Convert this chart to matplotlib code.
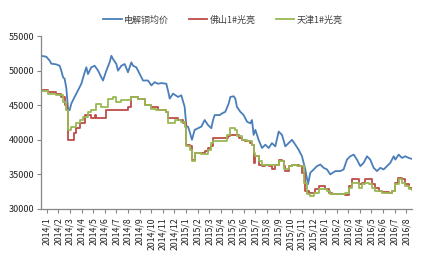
import matplotlib
matplotlib.use("Agg")
import matplotlib.pyplot as plt

plt.rcParams['font.family'] = ['Noto Sans CJK SC', 'DejaVu Sans']

# month labels (category axis)
months = [f"{y}/{m}" for y, m in [(2014, i) for i in range(1, 13)] + [(2015, i) for i in range(1, 13)] + [(2016, i) for i in range(1, 9)]]

# positions in fractional months since 2014/1
blue_t = [0.03, 0.46, 0.75, 0.89, 1.32, 1.61, 1.75, 1.90, 2.04, 2.19, 2.33, 2.39, 2.47, 2.62, 2.90, 3.19, 3.48, 3.77, 3.91, 4.05,
          4.34, 4.63, 4.92, 5.20, 5.35, 5.64, 5.92, 6.07, 6.21, 6.50, 6.64, 6.93, 7.22, 7.50, 7.79, 7.94, 8.22, 8.51, 8.80, 9.23,
          9.52, 9.80, 10.09, 10.38, 10.81, 10.95, 11.10, 11.39, 11.82, 12.10, 12.39, 12.54, 12.68, 12.82, 13.02, 13.25, 13.54, 13.83, 14.12, 14.40,
          14.69, 14.84, 14.98, 15.41, 15.61, 15.90, 16.19, 16.33, 16.62, 16.76, 16.90, 17.19, 17.48, 17.77, 18.05, 18.20, 18.34, 18.49, 18.77, 19.06,
          19.35, 19.64, 19.92, 20.21, 20.50, 20.79, 21.07, 21.36, 21.65, 21.94, 22.22, 22.51, 22.80, 23.03, 23.23, 23.52, 23.80, 24.09, 24.38, 24.67,
          24.95, 25.39, 25.82, 26.10, 26.39, 26.68, 26.97, 27.25, 27.54, 27.83, 28.12, 28.40, 28.69, 28.98, 29.27, 29.55, 29.84, 30.13, 30.42, 30.56,
          30.85, 31.14, 31.42, 31.71, 32.00]
blue_v = [52140, 52000, 51430, 51000, 50900, 50700, 50000, 49050, 48800, 47400, 44500, 44290, 44300, 45240, 46200, 47140, 48100, 49760, 50480, 49500,
          50480, 50700, 50000, 49050, 48570, 50000, 51200, 52140, 51670, 50950, 50000, 50700, 50950, 49760, 51190, 50700, 50480, 49520, 48570, 48570,
          47860, 48330, 48100, 48200, 48100, 47140, 45950, 46670, 46190, 46430, 44760, 41900, 41900, 41190, 40000, 41430, 41670, 41900, 42860, 42140,
          41670, 42860, 43570, 43570, 43810, 44050, 45240, 46190, 46290, 45950, 44760, 44050, 43570, 42620, 42380, 42860, 40710, 41430, 40000, 38810,
          39290, 38810, 39520, 39050, 41190, 40710, 39050, 39520, 40000, 39290, 38570, 37620, 35710, 33570, 35240, 35710, 36190, 36430, 35950, 35710,
          35000, 35480, 35480, 35710, 37140, 37620, 37860, 37140, 36190, 36670, 37620, 37140, 35950, 35480, 35950, 35710, 36190, 36670, 37620, 37140,
          37860, 37380, 37620, 37380, 37240]

red_t = [0.03, 0.60, 1.32, 1.75, 2.04, 2.27, 2.33, 2.76, 2.85, 3.05, 3.34, 3.77, 4.20, 4.34, 4.63, 4.77, 5.49, 5.64, 6.64, 7.50,
         7.79, 8.37, 8.94, 9.52, 10.09, 10.81, 10.95, 11.82, 12.25, 12.54, 12.82, 13.02, 13.25, 14.12, 14.40, 14.69, 14.84, 15.84, 16.13, 16.33,
         16.76, 17.05, 17.34, 17.62, 18.05, 18.20, 18.34, 18.49, 18.77, 19.06, 19.35, 19.64, 19.92, 20.21, 20.50, 20.79, 20.93, 21.07, 21.36, 21.65,
         22.22, 22.51, 22.80, 23.09, 23.52, 23.66, 23.95, 24.24, 24.52, 24.81, 25.10, 25.96, 26.25, 26.54, 26.82, 27.11, 27.40, 27.69, 27.97, 28.26,
         28.55, 28.84, 29.12, 29.41, 29.99, 30.27, 30.56, 30.79, 31.14, 31.42, 31.71, 32.00]
red_v = [47140, 46900, 46670, 46190, 45000, 44290, 40000, 40000, 40950, 41670, 42380, 43570, 43570, 43100, 43570, 43100, 43100, 44290, 44290, 44760,
         46190, 45950, 45000, 44760, 44290, 44050, 43100, 42860, 42380, 39290, 39050, 37140, 38100, 38330, 38810, 39050, 40240, 40240, 40480, 40710,
         40710, 40240, 40000, 39760, 39520, 39290, 36670, 37620, 36430, 36190, 36430, 36190, 35710, 36430, 37140, 36900, 36190, 35480, 36190, 36430,
         36190, 35240, 32620, 32380, 32380, 32860, 33330, 33330, 32860, 32380, 32140, 32140, 32000, 33330, 34290, 34380, 33570, 33810, 34290, 34290,
         33570, 33100, 32620, 32480, 32380, 32620, 33810, 34520, 34290, 33570, 33100, 32860]

green_t = [0.03, 0.60, 1.32, 1.90, 2.19, 2.33, 2.62, 3.05, 3.34, 3.62, 4.05, 4.34, 4.77, 5.06, 5.20, 5.49, 5.78, 6.21, 6.50, 6.93,
           7.50, 7.79, 8.37, 8.94, 9.52, 9.95, 10.52, 10.81, 10.95, 11.53, 12.10, 12.39, 12.54, 12.82, 13.02, 13.25, 13.83, 14.40, 14.69, 14.84,
           15.84, 16.04, 16.33, 16.76, 16.90, 17.34, 17.77, 18.20, 18.34, 18.49, 18.77, 19.06, 19.64, 20.07, 20.50, 20.93, 21.36, 21.65, 22.08, 22.37,
           22.65, 22.94, 23.23, 23.52, 23.95, 24.24, 24.67, 24.95, 25.39, 26.25, 26.54, 26.82, 27.11, 27.40, 27.69, 27.97, 28.26, 28.55, 28.84, 29.41,
           29.99, 30.27, 30.56, 30.85, 31.14, 31.42, 31.71, 32.00]
green_v = [47050, 46670, 46430, 45480, 44290, 41430, 41900, 42380, 42860, 43330, 44050, 44290, 45240, 45240, 44760, 44760, 45950, 46190, 45480, 45710,
           45710, 46190, 45950, 45000, 44520, 44290, 44290, 44050, 42380, 42860, 42620, 41900, 39050, 38570, 36900, 38100, 38000, 38570, 39520, 39760,
           39760, 40710, 41670, 41430, 40480, 40000, 39760, 39290, 38100, 37620, 36900, 36290, 36290, 36430, 36900, 35710, 36190, 36430, 36190, 36190,
           33810, 32140, 31900, 32380, 32860, 32860, 32620, 32140, 32140, 32240, 33100, 33810, 33810, 33100, 33570, 33810, 33570, 33100, 32620, 32380,
           32380, 32620, 33570, 34290, 33810, 33330, 32860, 32760]

series_names = ["电解铜均价", "佛山1#光亮", "天津1#光亮"]
yticks = [30000, 35000, 40000, 45000, 50000, 55000]

fig = plt.figure(figsize=(4.28, 2.56), dpi=100)
ax = fig.add_axes([41/428, 1-209/256, 371/428, 173/256])

ax.plot(blue_t, blue_v, color="#4A7EBB", lw=1.3, label=series_names[0])
ax.plot(red_t, red_v, color="#BE4B48", lw=1.3, drawstyle="steps-post", label=series_names[1])
ax.plot(green_t, green_v, color="#98B954", lw=1.3, drawstyle="steps-post", label=series_names[2])

ax.set_xlim(0, 32)
ax.set_ylim(30000, 55000)
ax.set_yticks(yticks)
ax.set_yticklabels([str(v) for v in yticks], fontsize=6.5, color="#222222")
ax.set_xticks([i + 0.5 for i in range(len(months))])
ax.set_xticklabels(months, rotation=90, fontsize=6.3, color="#222222")
ax.tick_params(axis="both", direction="out", length=3, width=0.8, color="#868686", pad=2)
ax.tick_params(axis="x", pad=3)

for s in ["top", "right"]:
    ax.spines[s].set_visible(False)
for s in ["left", "bottom"]:
    ax.spines[s].set_color("#868686")
    ax.spines[s].set_linewidth(0.9)

leg = fig.legend(loc="center", bbox_to_anchor=(223/428, 1-20/256), ncol=3, frameon=False,
                 fontsize=6.5, handlelength=2.0, handletextpad=0.3, columnspacing=2.2)
for t in leg.get_texts():
    t.set_color("#404040")

fig.savefig("out.png", dpi=100)
